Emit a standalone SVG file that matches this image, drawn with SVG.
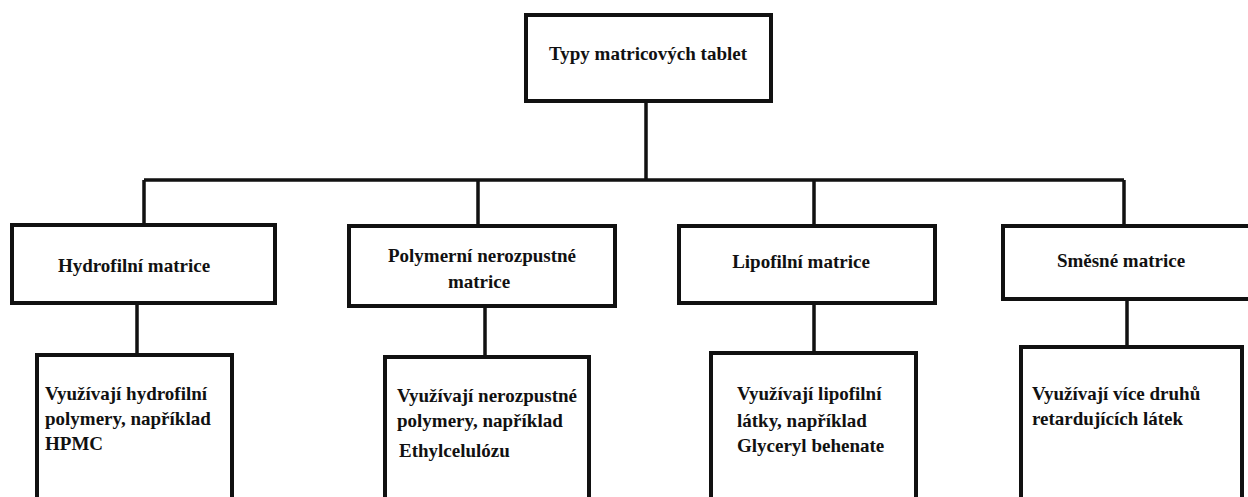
<svg xmlns="http://www.w3.org/2000/svg" width="1248" height="497" viewBox="0 0 1248 497">
<style>
.box{fill:#fff;stroke:#111;stroke-width:4}
.ln{fill:none;stroke:#111;stroke-width:3.5}
.t{font-family:'Liberation Serif','DejaVu Serif',serif;font-weight:700;font-size:19px;fill:#111}
.c{text-anchor:middle}
</style>
<rect width="1248" height="497" fill="#fff"/>
<g id="connectors">
<path class="ln" d="M646 101 V180 M144 180 H1124 M144 180 V223 M478 180 V225 M814 180 V225 M1124 180 V225"/>
<path class="ln" d="M137 303 V354 M485 307 V357 M814 303 V353 M1127 300 V347"/>
</g>
<g id="root">
<rect class="box" x="526" y="15" width="245" height="86"/>
<text class="t c" x="648" y="60">Typy matricových tablet</text>
</g>
<g id="hydrofilni">
<rect class="box" x="12" y="225" width="263" height="78"/>
<text class="t c" x="134" y="272">Hydrofilní matrice</text>
</g>
<g id="polymerni">
<rect class="box" x="349" y="226" width="266" height="80"/>
<text class="t c" x="482" y="262">Polymerní nerozpustné</text>
<text class="t c" x="479" y="288">matrice</text>
</g>
<g id="lipofilni">
<rect class="box" x="679" y="226" width="256" height="77"/>
<text class="t c" x="801" y="268">Lipofilní matrice</text>
</g>
<g id="smesne">
<rect class="box" x="1003" y="226" width="250" height="73"/>
<text class="t c" x="1121" y="267">Směsné matrice</text>
</g>
<g id="hydrofilni-popis">
<rect class="box" x="37" y="355" width="195" height="160"/>
<text class="t" x="45" y="400">Využívají hydrofilní</text>
<text class="t" x="45" y="425">polymery, například</text>
<text class="t" x="45" y="450">HPMC</text>
</g>
<g id="polymerni-popis">
<rect class="box" x="385" y="357" width="204" height="160"/>
<text class="t" x="397" y="402">Využívají nerozpustné</text>
<text class="t" x="397" y="427">polymery, například</text>
<text class="t" x="399" y="457">Ethylcelulózu</text>
</g>
<g id="lipofilni-popis">
<rect class="box" x="711" y="353" width="205" height="160"/>
<text class="t" x="737" y="400">Využívají lipofilní</text>
<text class="t" x="737" y="427">látky, například</text>
<text class="t" x="737" y="452">Glyceryl behenate</text>
</g>
<g id="smesne-popis">
<rect class="box" x="1021" y="347" width="221" height="160"/>
<text class="t" x="1032" y="400">Využívají více druhů</text>
<text class="t" x="1032" y="425">retardujících látek</text>
</g>
</svg>
